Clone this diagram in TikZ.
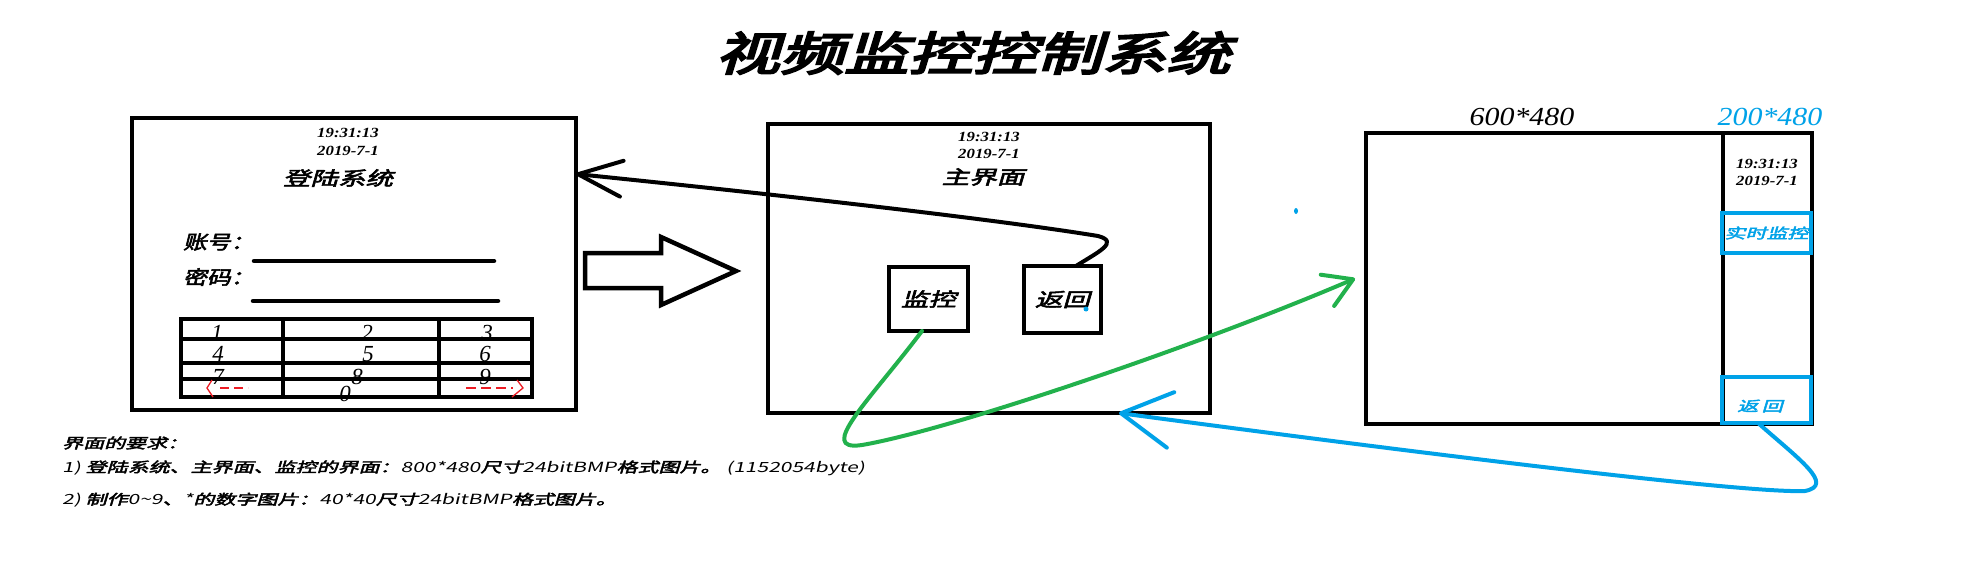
\documentclass[tikz,border=0pt]{standalone}
\usepackage{fontspec}
\usepackage{graphicx}
\usetikzlibrary{arrows.meta,calc}
\setmainfont{Liberation Serif}
\newfontfamily\cjk[FakeBold=2.5,FakeSlant=0.2]{Noto Sans CJK SC}
\newfontfamily\cjkh[FakeBold=4,FakeSlant=0.22]{Noto Sans CJK SC}
\newfontfamily\cjkr[FakeSlant=0.15]{Noto Sans CJK SC}
\definecolor{pgreen}{HTML}{22B14C}
\definecolor{pblue}{HTML}{00A2E8}
\definecolor{pred}{HTML}{ED1C24}
\newcommand{\fsz}[1]{\fontsize{#1}{#1}\selectfont}
\tikzset{
  frame/.style={draw=black, line width=4.5pt, inner sep=0pt, outer sep=0pt},
  bframe/.style={draw=pblue, line width=4.5pt, inner sep=0pt, outer sep=0pt},
  stamp/.style={inner sep=0pt, font=\fsz{14}\bfseries\itshape},
  plain/.style={inner sep=0pt},
  digit/.style={inner sep=0pt, anchor=base, font=\fsz{23}\itshape},
  hand/.style={line width=4pt, line cap=round, line join=round},
  gridline/.style={line width=4.5pt},
  redmark/.style={pred, line width=1.3pt}
}
\begin{document}
\begin{tikzpicture}[x=1pt,y=-1pt]
\useasboundingbox (0,0) rectangle (1980,562);
\fill[white] (0,0) rectangle (1980,562);

% title
\node[plain] (title) at (973,53) {\cjkh\fsz{46}\scalebox{1.4}[1]{视频监控控制系统}};

% ---------- login screen ----------
\node[frame, minimum width=444pt, minimum height=292pt] (login) at (354,264) {};
\node[stamp] (l1) at (348,133) {\scalebox{1.2}[1]{19:31:13}};
\node[stamp] (l2) at (348,151) {\scalebox{1.2}[1]{2019-7-1}};
\node[plain] (ltitle) at (338,178) {\cjk\fsz{19}\scalebox{1.45}[1]{登陆系统}};
\node[plain, anchor=west] (acc) at (183,242) {\cjk\fsz{19}\scalebox{1.25}[1]{账号：}};
\node[plain, anchor=west] (pwd) at (183,277) {\cjk\fsz{19}\scalebox{1.25}[1]{密码：}};
\draw[hand, line width=4.5pt] (254,261) -- (494,261);
\draw[hand, line width=4.5pt] (253,301) -- (498,301);

% keypad digits
\node[digit] (d1) at (217,340) {1};
\node[digit] (d2) at (367,340) {2};
\node[digit] (d3) at (487,340) {3};
\node[digit] (d4) at (218,361) {4};
\node[digit] (d5) at (368,361) {5};
\node[digit] (d6) at (485,361) {6};
\node[digit] (d7) at (218,384) {7};
\node[digit] (d8) at (357,384) {8};
\node[digit] (d9) at (485,384) {9};
\node[digit] (d0) at (345,401) {0};
% keypad grid
\draw[gridline] (181,319) rectangle (532,397);
\draw[gridline] (181,339) -- (532,339);
\draw[gridline] (181,363) -- (532,363);
\draw[gridline] (181,379) -- (532,379);
\draw[gridline] (283,319) -- (283,397);
\draw[gridline] (439,319) -- (439,397);
% red marks
\draw[redmark] (212,380) -- (207,388) -- (213,397);
\draw[redmark, dash pattern=on 9pt off 5pt] (220,388) -- (248,388);
\draw[redmark, dash pattern=on 10pt off 5pt] (466,388) -- (513,388);
\draw[redmark] (517,380) -- (523,388) -- (512,397);

% big hollow arrow
\draw[line width=4.5pt, line join=miter] (585,253) -- (661,253) -- (661,237) -- (736,271)
  -- (661,305) -- (661,288) -- (585,288) -- cycle;

% ---------- main screen ----------
\node[frame, minimum width=442pt, minimum height=289pt] (main) at (989,268.5) {};
\node[stamp] (m1) at (989,137) {\scalebox{1.2}[1]{19:31:13}};
\node[stamp] (m2) at (989,154) {\scalebox{1.2}[1]{2019-7-1}};
\node[plain] (mtitle) at (983,177) {\cjk\fsz{19}\scalebox{1.45}[1]{主界面}};
\node[frame, minimum width=79pt, minimum height=64pt] (jk) at (928.5,299) {\cjk\fsz{19}\scalebox{1.45}[1]{监控}};
\node[frame, minimum width=77pt, minimum height=67pt] (fh) at (1062.5,299.5) {\cjk\fsz{19}\scalebox{1.45}[1]{返回}};
\fill[pblue] (1086,309) circle (2.5pt);

% ---------- monitor screen ----------
\node[plain, font=\fsz{26}\itshape] (sz1) at (1522,117) {\scalebox{1.15}[1]{600*480}};
\node[plain, font=\fsz{26}\itshape, text=pblue] (sz2) at (1770,117) {\scalebox{1.15}[1]{200*480}};
\node[frame, minimum width=357pt, minimum height=291pt] (mon) at (1544.5,278.5) {};
\node[frame, minimum width=89pt, minimum height=291pt] (panel) at (1767.5,278.5) {};
\node[stamp] (p1) at (1767,164) {\scalebox{1.2}[1]{19:31:13}};
\node[stamp] (p2) at (1767,181) {\scalebox{1.2}[1]{2019-7-1}};
\node[bframe, minimum width=89pt, minimum height=40pt, text=pblue] (rtjk) at (1766.5,233) {\cjk\fsz{14}\scalebox{1.5}[1]{实时监控}};
\node[bframe, minimum width=89pt, minimum height=46pt] (bfh) at (1766.5,400) {};
\node[plain, text=pblue] (bfht) at (1760,406) {\cjk\fsz{14}\scalebox{1.5}[1]{返\,回}};
\fill[pblue] (1296,211) ellipse (2pt and 3pt);

% ---------- connectors ----------
\draw[hand, -{Straight Barb[length=44pt,width=36pt,round]}]
  ([xshift=13.5pt]fh.north) .. controls (1098,252) and (1120,242) .. (1098,236)
  .. controls (1000,220) and (800,197) .. ([yshift=90pt]login.east);
\draw[hand, pgreen, -{Straight Barb[length=28pt,width=34pt,round]}]
  ([xshift=-6.5pt]jk.south) .. controls (870,400) and (815,452) .. (862,445)
  .. controls (950,430) and (1200,345) .. ([xshift=-11pt]mon.west);
\draw[hand, pblue, -{Straight Barb[length=50pt,width=56pt,round]}]
  ([xshift=-8.5pt]bfh.south) .. controls (1800,460) and (1835,485) .. (1805,491)
  .. controls (1740,494) and (1350,444) .. ([xshift=130pt]main.south);

% ---------- requirements text ----------
\node[plain, anchor=west] (req0) at (62,443) {\fsz{14}\scalebox{1.5}[1]{\cjk 界面的要求：}};
\node[plain, anchor=west] (req1) at (62,468) {\fsz{14}\scalebox{1.5}[1]{\cjkr 1)\ \cjk 登陆系统、主界面、监控的界面：\cjkr 800*480\cjk 尺寸\cjkr 24bitBMP\cjk 格式图片。\cjkr\ (1152054byte)}};
\node[plain, anchor=west] (req2) at (62,500) {\fsz{14}\scalebox{1.5}[1]{\cjkr 2)\ \cjk 制作\cjkr 0\textasciitilde 9\cjk 、\cjkr *\cjk 的数字图片：\cjkr 40*40\cjk 尺寸\cjkr 24bitBMP\cjk 格式图片。}};
\end{tikzpicture}
\end{document}
